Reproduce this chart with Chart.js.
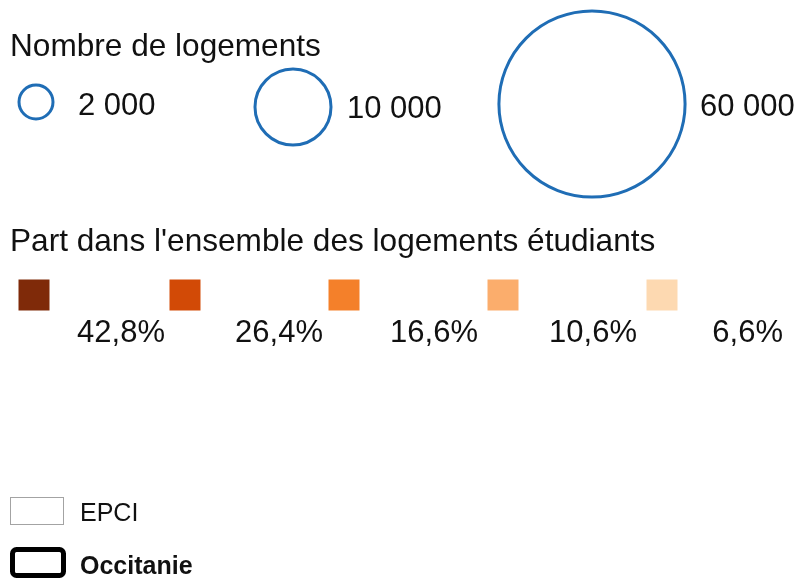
<!DOCTYPE html>
<html><head><meta charset="utf-8">
<script src="https://cdn.jsdelivr.net/npm/chart.js@4/dist/chart.umd.min.js"></script>
<style>html,body{margin:0;padding:0;background:#fff}#wrap{width:803px;height:583px;position:relative}</style>
</head><body><div id="wrap"><canvas id="c" width="803" height="583"></canvas></div>
<script>
// ---- data ----
const sizeTitle = 'Nombre de logements';
const sizeValues = [2000, 10000, 60000];
const sizeLabels = ['2 000', '10 000', '60 000'];
const classTitle = "Part dans l'ensemble des logements étudiants";
const classLabels = ['42,8%', '26,4%', '16,6%', '10,6%', '6,6%'];
const classColors = ['#7f2a09', '#d24a06', '#f4802a', '#fbad6c', '#fdd9b1'];
const boundaryLabels = ['EPCI', 'Occitanie'];

// ---- layout (in the pixel space of the hidden axes) ----
const RADIUS_K = 0.38;            // px per sqrt(logement)
const circleX = [36, 293, 592];
const circleY = [102, 107, 104];
const circleLabelX = [78, 347, 700];
const circleLabelY = [115, 118, 116];
const squareX = [34, 185, 344, 503, 662];
const squareY = 295;
const squareSide = 31;
const classLabelRight = [165, 323, 478, 637, 783];
const classLabelY = 342;

const FONT = '"Liberation Sans", Arial, sans-serif';

// legend symbols must not shrink the plotting area
Chart.BubbleController.prototype.getMaxOverflow = function () { return false; };
Chart.ScatterController.prototype.getMaxOverflow = function () { return false; };

const textPlugin = {
  id: 'legendText',
  afterDatasetsDraw(chart) {
    const ctx = chart.ctx, xs = chart.scales.x, ys = chart.scales.y;
    const X = v => xs.getPixelForValue(v), Y = v => ys.getPixelForValue(v);
    ctx.save();
    ctx.fillStyle = '#111';
    ctx.textBaseline = 'alphabetic';
    ctx.textAlign = 'left';
    ctx.font = '31.6px ' + FONT;
    ctx.fillText(sizeTitle, X(10), Y(56));
    ctx.fillText(classTitle, X(10), Y(251));
    ctx.font = '31px ' + FONT;
    sizeLabels.forEach((t, i) => ctx.fillText(t, X(circleLabelX[i]), Y(circleLabelY[i])));
    ctx.textAlign = 'right';
    classLabels.forEach((t, i) => ctx.fillText(t, X(classLabelRight[i]), Y(classLabelY)));
    // boundary symbols
    ctx.textAlign = 'left';
    ctx.strokeStyle = '#a3a3a3';
    ctx.lineWidth = 1;
    ctx.strokeRect(X(10.5), Y(497.5), 53, 27);
    ctx.font = '25px ' + FONT;
    ctx.fillText(boundaryLabels[0], X(80), Y(521));
    ctx.strokeStyle = '#000';
    ctx.lineWidth = 5;
    ctx.beginPath();
    ctx.roundRect(X(12.5), Y(549.5), 51, 26, 4);
    ctx.stroke();
    ctx.font = 'bold 25px ' + FONT;
    ctx.fillText(boundaryLabels[1], X(80), Y(574));
    ctx.restore();
  }
};

new Chart(document.getElementById('c'), {
  type: 'bubble',
  data: {
    datasets: [
      {
        label: sizeTitle,
        data: sizeValues.map((v, i) => ({ x: circleX[i], y: circleY[i], r: RADIUS_K * Math.sqrt(v) })),
        backgroundColor: 'rgba(255,255,255,0)',
        borderColor: '#1f6db5',
        borderWidth: 3,
        clip: false
      },
      {
        type: 'scatter',
        label: classTitle,
        data: classLabels.map((l, i) => ({ x: squareX[i], y: squareY })),
        pointStyle: 'rect',
        pointRadius: squareSide / Math.SQRT2,
        pointHoverRadius: squareSide / Math.SQRT2,
        pointBackgroundColor: classColors,
        pointBorderWidth: 0,
        borderWidth: 0,
        clip: false
      }
    ]
  },
  options: {
    responsive: false,
    devicePixelRatio: 1,
    animation: false,
    events: [],
    layout: { padding: 0 },
    scales: {
      x: { type: 'linear', min: 0, max: 803, display: false },
      y: { type: 'linear', min: 0, max: 583, reverse: true, display: false }
    },
    plugins: { legend: { display: false }, tooltip: { enabled: false } }
  },
  plugins: [textPlugin]
});
</script>
</body></html>
